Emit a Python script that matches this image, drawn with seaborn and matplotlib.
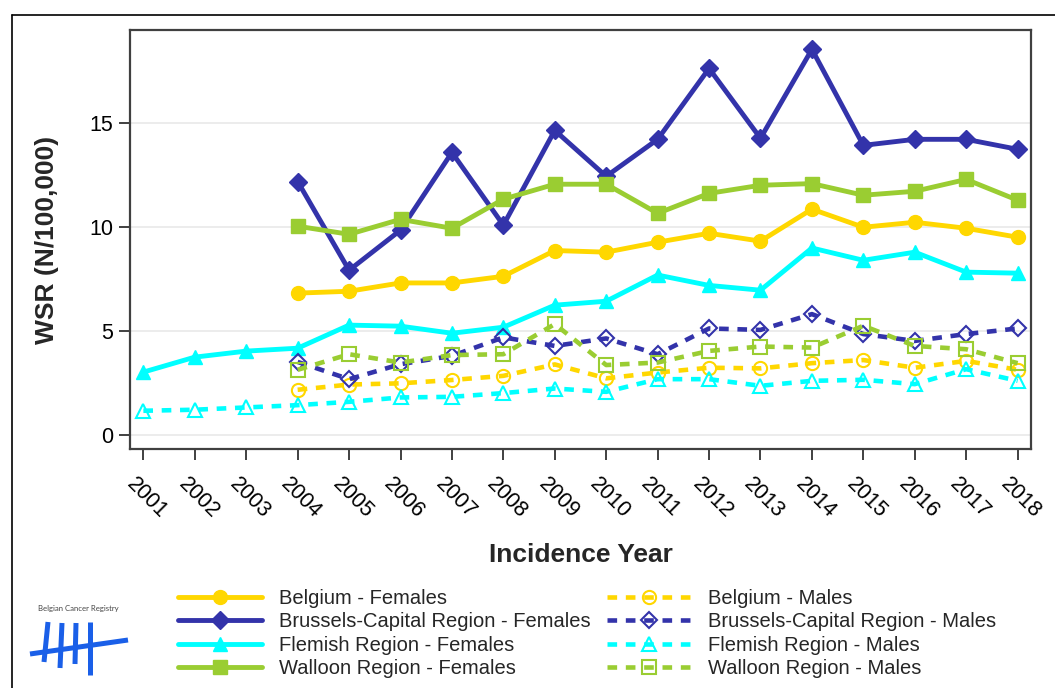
import matplotlib
matplotlib.use("Agg")
import matplotlib.pyplot as plt
import matplotlib.transforms as mtransforms
from matplotlib.lines import Line2D
import pandas as pd
import seaborn as sns

# incidence years
years_all = [2001, 2002, 2003, 2004, 2005, 2006, 2007, 2008, 2009,
             2010, 2011, 2012, 2013, 2014, 2015, 2016, 2017, 2018]
years_04 = [2004, 2005, 2006, 2007, 2008, 2009, 2010, 2011,
            2012, 2013, 2014, 2015, 2016, 2017, 2018]

# WSR (N/100,000)
belgium_f = [6.83, 6.92, 7.32, 7.32, 7.64, 8.88, 8.80, 9.28,
             9.71, 9.33, 10.87, 10.00, 10.24, 9.95, 9.52]
brussels_f = [12.2, 7.93, 9.86, 13.6, 10.1, 14.66, 12.45, 14.23,
              17.64, 14.28, 18.56, 13.94, 14.23, 14.23, 13.75]
flemish_f = [3.03, 3.75, 4.04, 4.18, 5.29, 5.24, 4.90, 5.19, 6.25,
             6.44, 7.70, 7.20, 6.97, 9.00, 8.41, 8.80, 7.84, 7.79]
walloon_f = [10.05, 9.66, 10.38, 9.95, 11.35, 12.07, 12.07, 10.67,
             11.63, 12.02, 12.10, 11.54, 11.73, 12.30, 11.30]

belgium_m = [2.18, 2.43, 2.49, 2.65, 2.85, 3.40, 2.73, 3.01,
             3.24, 3.21, 3.46, 3.61, 3.24, 3.57, 3.14]
brussels_m = [3.52, 2.69, 3.41, 3.81, 4.70, 4.29, 4.65, 3.89,
              5.13, 5.06, 5.82, 4.86, 4.53, 4.86, 5.13]
flemish_m = [1.17, 1.22, 1.33, 1.44, 1.60, 1.81, 1.84, 2.02, 2.24,
             2.08, 2.69, 2.69, 2.37, 2.61, 2.66, 2.45, 3.17, 2.61]
walloon_m = [3.14, 3.89, 3.49, 3.85, 3.89, 5.34, 3.37, 3.49,
             4.05, 4.26, 4.21, 5.26, 4.29, 4.13, 3.46]

GOLD = "#FFD700"
NAVY = "#3333AA"
CYAN = "#00FFFF"
GREEN = "#9ACD32"

# label, years, values, colour, marker, size, filled
series = [
    ("Belgium - Females", years_04, belgium_f, GOLD, "o", 10, True),
    ("Brussels-Capital Region - Females", years_04, brussels_f, NAVY, "D", 9, True),
    ("Flemish Region - Females", years_all, flemish_f, CYAN, "^", 10, True),
    ("Walloon Region - Females", years_04, walloon_f, GREEN, "s", 10, True),
    ("Belgium - Males", years_04, belgium_m, GOLD, "o", 9.5, False),
    ("Brussels-Capital Region - Males", years_04, brussels_m, NAVY, "D", 8.5, False),
    ("Flemish Region - Males", years_all, flemish_m, CYAN, "^", 10, False),
    ("Walloon Region - Males", years_04, walloon_m, GREEN, "s", 9.5, False),
]

W, H = 1055, 688


def fx(px):
    return px / W


def fy(py):
    return 1 - py / H


sns.set_theme(style="ticks")
plt.rcParams["font.family"] = ["Liberation Sans", "DejaVu Sans"]

fig = plt.figure(figsize=(W / 100, H / 100), dpi=100)
ax = fig.add_axes([fx(130), fy(449), fx(1031) - fx(130), fy(30) - fy(449)])

for label, yrs, vals, color, marker, ms, filled in series:
    df = pd.DataFrame({"year": yrs, "wsr": vals})
    sns.lineplot(
        data=df, x="year", y="wsr", ax=ax, errorbar=None, legend=False,
        color=color, lw=3.5 if filled else 3.3,
        ls="-" if filled else (0, (2.1, 1.9)),
        marker=marker, ms=ms,
        mfc=color if filled else "none", mec=color,
        mew=1.0 if filled else 1.5,
        label=label,
    )

ax.set_xlim(2000.74, 2018.26)
ax.set_ylim(-0.67, 19.49)
ax.set_xticks(years_all)
ax.set_yticks([0, 5, 10, 15])

ax.yaxis.grid(True, color="#e9e9e9", lw=1.2)
ax.xaxis.grid(False)
ax.set_axisbelow(True)

for sp in ax.spines.values():
    sp.set_color("#404040")
    sp.set_linewidth(1.6)

ax.tick_params(axis="both", direction="out", length=8, width=1.4,
               color="#404040", labelsize=15.5, labelcolor="black")
ax.tick_params(axis="y", pad=4)
ax.tick_params(axis="x", pad=10)

shift = mtransforms.ScaledTranslation(-6 / 100, 0, fig.dpi_scale_trans)
for lab in ax.get_xticklabels():
    lab.set_rotation(-45)
    lab.set_ha("left")
    lab.set_va("top")
    lab.set_rotation_mode("anchor")
    lab.set_transform(lab.get_transform() + shift)

ax.set_xlabel("Incidence Year", fontsize=19, fontweight="bold")
ax.set_ylabel("WSR (N/100,000)", fontsize=19, fontweight="bold")
ax.xaxis.set_label_coords(0.5, -0.225)
ax.yaxis.set_label_coords(-0.079, 0.5)

handles, labels = ax.get_legend_handles_labels()
fig.legend(
    handles, labels, ncol=2, loc="upper left",
    bbox_to_anchor=(fx(178), fy(589)), frameon=False,
    fontsize=14.5, handlelength=4.15, handletextpad=0.85,
    columnspacing=0.85, labelspacing=0.22, borderpad=0, borderaxespad=0,
)

# outer frame (only top and left edges fall inside the picture)
fig.add_artist(Line2D([fx(12), fx(12)], [fy(15), 0], color="black", lw=1.2))
fig.add_artist(Line2D([fx(12), 1], [fy(15), fy(15)], color="black", lw=1.2))

# registry logo
fig.text(fx(78), fy(609), "Belgian Cancer Registry", fontsize=5.6,
         color="#444444", ha="center", va="center", family=["Lato", "DejaVu Sans"])
LOGO = "#1A5FE8"
strokes = [
    ((48, 622), (44, 662)),
    ((62, 623), (60, 668)),
    ((76, 623), (75, 664)),
    ((90, 622), (90, 675)),
    ((30, 654), (128, 640)),
]
for (x0, y0), (x1, y1) in strokes:
    fig.add_artist(Line2D([fx(x0), fx(x1)], [fy(y0), fy(y1)], color=LOGO,
                          lw=3.6, solid_capstyle="butt"))

fig.savefig("out.png", dpi=100)
